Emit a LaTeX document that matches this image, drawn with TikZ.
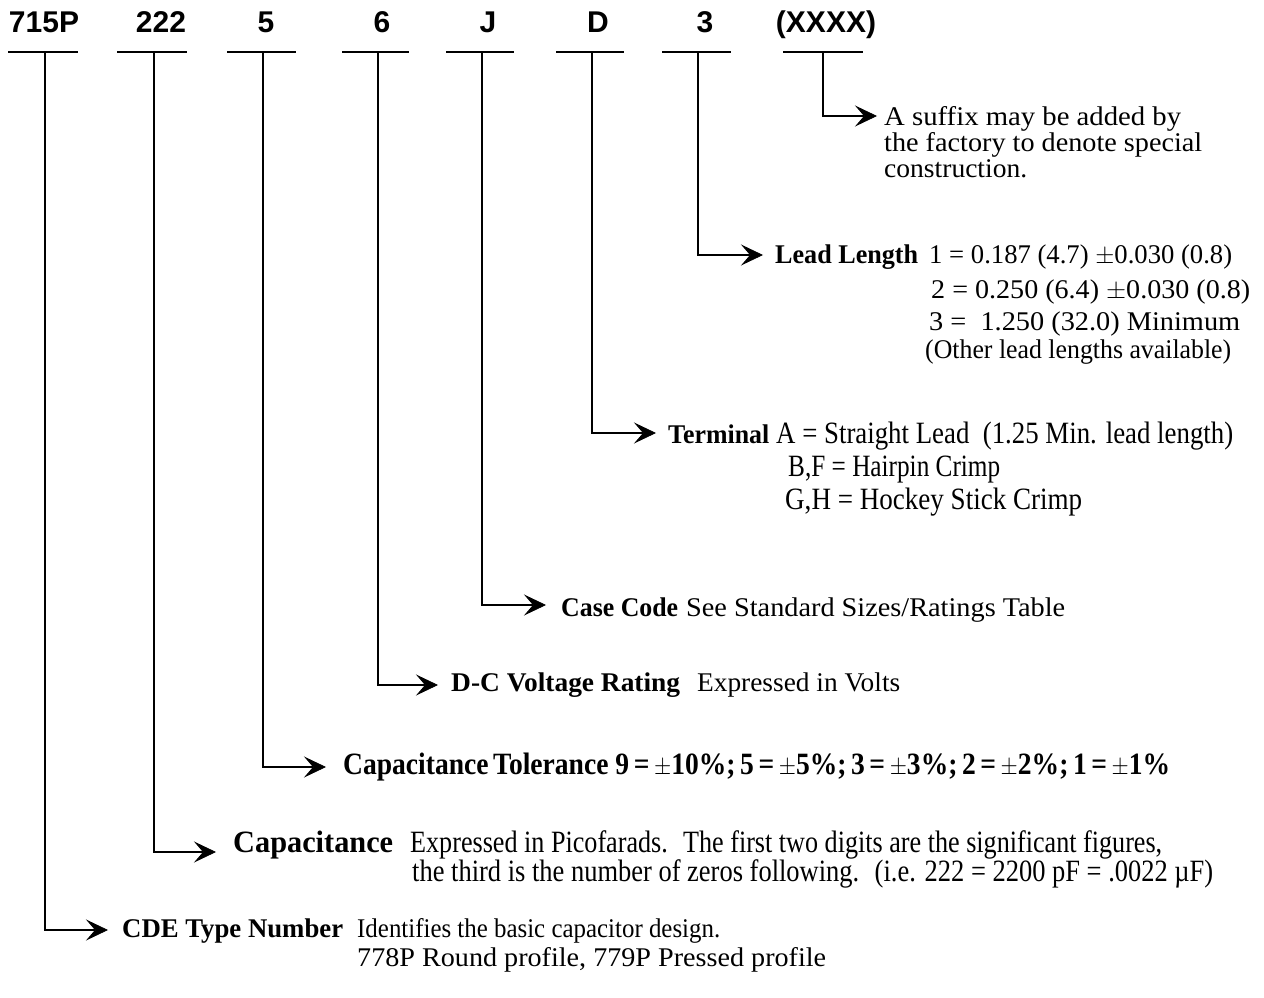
\documentclass[tikz,border=0pt]{standalone}
\usepackage{fontspec}
\setmainfont{Liberation Serif}
\newfontfamily\hdrfont{Liberation Sans}
\usepackage{graphicx}
\usetikzlibrary{arrows.meta}
\newcommand{\fw}[2]{\resizebox{#1pt}{\height}{#2}}
\tikzset{
  hdr/.style={font=\hdrfont\bfseries\fontsize{30}{32}\selectfont, anchor=base, inner sep=0pt},
  txt/.style={font=\fontsize{27}{30}\selectfont, anchor=base west, inner sep=0pt},
  tall/.style={font=\fontsize{31}{33}\selectfont, anchor=base west, inner sep=0pt},
  bar/.style={line width=1.6pt},
  conn/.style={line width=1.6pt, -{Stealth[length=22pt,width=21pt,inset=9pt,line width=0.8pt]}},
}
\begin{document}
\begin{tikzpicture}[x=1pt,y=-1pt]
\useasboundingbox[fill=white] (0,0) rectangle (1264,998);
% header codes
\node[hdr] (h1) at (44,33) {715P};
\node[hdr] (h2) at (161,33) {222};
\node[hdr] (h3) at (266,33) {5};
\node[hdr] (h4) at (382,33) {6};
\node[hdr] (h5) at (488,33) {J};
\node[hdr] (h6) at (598,33) {D};
\node[hdr] (h7) at (705,33) {3};
\node[hdr] (h8) at (826,33) {(XXXX)};
% bars and leader connectors
\foreach \n/\xl/\xr/\xv/\ya/\xt in {
  1/8/78/45/930/108,
  2/117/187/154/852/216,
  3/227/296/263/767/326,
  4/342/409/378/685/438,
  5/446/514/482/605/546,
  6/556/624/592/433/656,
  7/662/731/698/255/763,
  8/783/863/823/116/877}{
  \coordinate (bl\n) at (\xl,52);
  \coordinate (br\n) at (\xr,52);
  \coordinate (top\n) at (\xv,52);
  \coordinate (tip\n) at (\xt,\ya);
  \draw[bar] (bl\n) -- (br\n);
  \draw[conn] (top\n) |- (tip\n);
}
% suffix
\node[txt] (s1) at (884,125) {\fw{297}{A suffix may be added by}};
\node[txt] (s2) at (884,151) {\fw{318}{the factory to denote special}};
\node[txt] (s3) at (884,177) {\fw{143}{construction.}};
% lead length
\node[txt] (l0) at (775,263) {\fw{143}{\textbf{Lead Length}}};
\node[txt] (l1) at (929,263) {\fw{303}{1 = 0.187 (4.7) \(\pm\)0.030 (0.8)}};
\node[txt] (l2) at (931,298) {\fw{319}{2 = 0.250 (6.4) \(\pm\)0.030 (0.8)}};
\node[txt] (l3) at (929,330) {\fw{311}{3 = \ 1.250 (32.0) Minimum}};
\node[txt] (l4) at (925,358) {\fw{306}{(Other lead lengths available)}};
% terminal
\node[txt] (t0) at (668,443) {\fw{101}{\textbf{Terminal}}};
\node[tall] (t1) at (776,443) {\fw{457}{A = Straight Lead \ (1.25 Min. lead length)}};
\node[tall] (t2) at (788,476) {\fw{212}{B,F = Hairpin Crimp}};
\node[tall] (t3) at (785,509) {\fw{297}{G,H = Hockey Stick Crimp}};
% case code
\node[txt] (c0) at (561,616) {\fw{117}{\textbf{Case Code}}};
\node[txt] (c1) at (686,616) {\fw{379}{See Standard Sizes/Ratings Table}};
% voltage
\node[txt] (v0) at (451,691) {\fw{229}{\textbf{D-C Voltage Rating}}};
\node[txt] (v1) at (697,691) {\fw{203}{Expressed in Volts}};
% tolerance
\node[tall] (k0) at (343,774) {\fw{827}{\textbf{Capacitance\,Tolerance 9\,=\,\(\pm\)10\%;\,5\,=\,\(\pm\)5\%;\,3\,=\,\(\pm\)3\%;\,2\,=\,\(\pm\)2\%;\,1\,=\,\(\pm\)1\%}}};
% capacitance
\node[tall] (p0) at (233,852) {\fw{160}{\textbf{Capacitance}}};
\node[tall] (p1) at (410,852) {\fw{752}{Expressed in Picofarads. \ The first two digits are the significant figures,}};
\node[tall] (p2) at (412,881) {\fw{801}{the third is the number of zeros following. \ (i.e. 222 = 2200 pF = .0022 µF)}};
% type number
\node[txt] (d0) at (122,937) {\fw{221}{\textbf{CDE Type Number}}};
\node[txt] (d1) at (357,937) {\fw{363}{Identifies the basic capacitor design.}};
\node[txt] (d2) at (357,966) {\fw{469}{778P Round profile, 779P Pressed profile}};
\end{tikzpicture}
\end{document}
